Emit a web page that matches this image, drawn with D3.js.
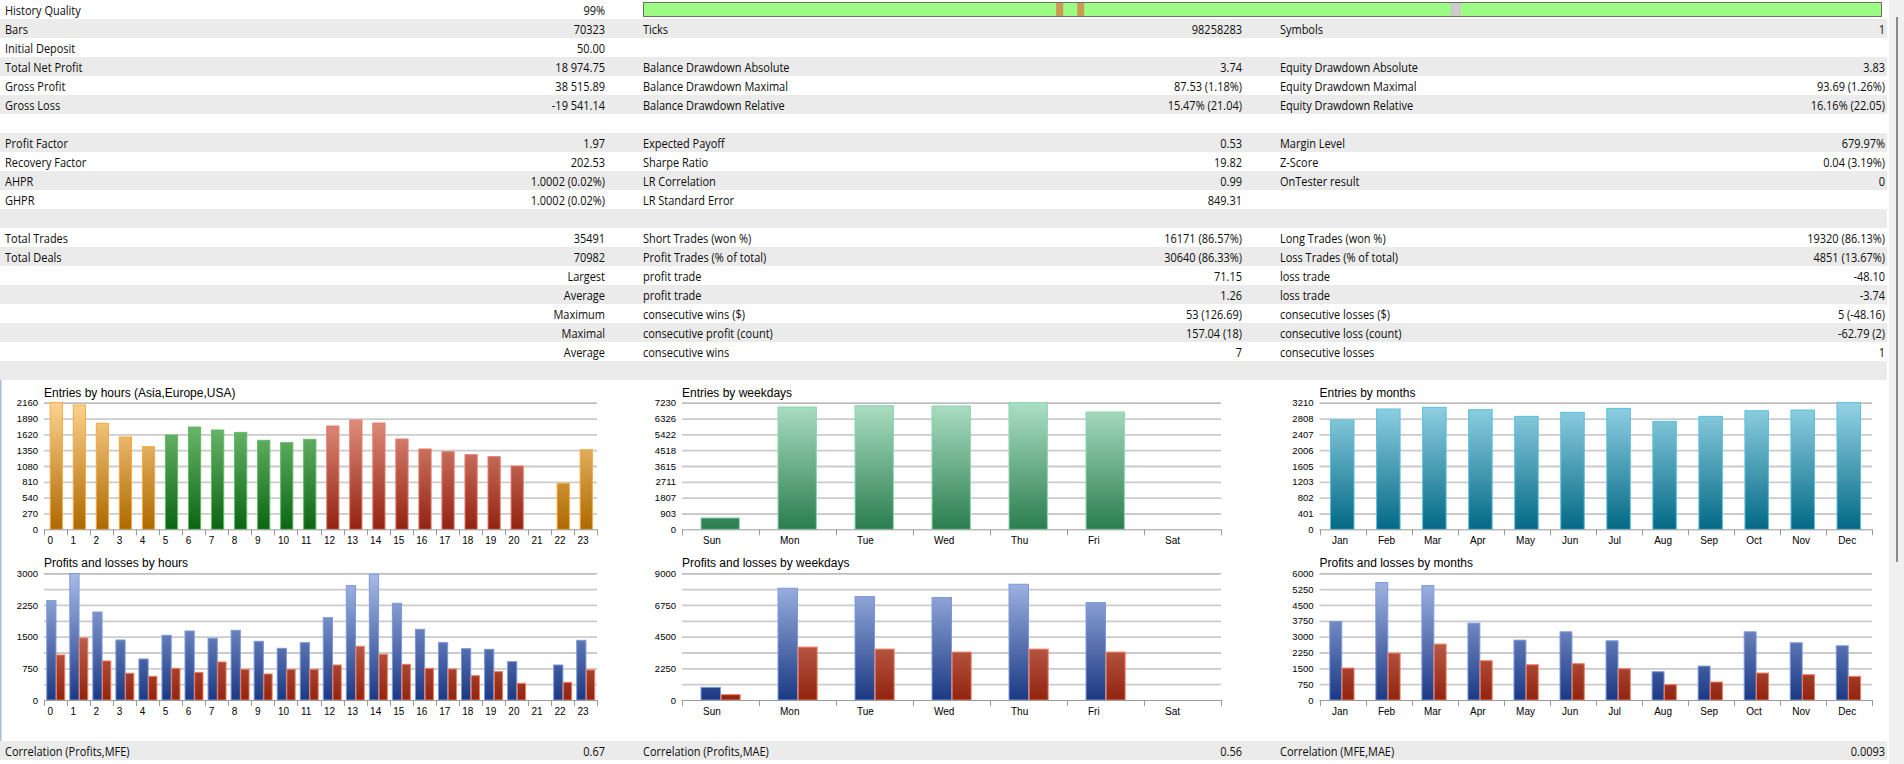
<!DOCTYPE html>
<html>
<head>
<meta charset="utf-8">
<script src="https://cdn.jsdelivr.net/npm/d3@7"></script>
<style>
body { margin: 0; background: #fff; overflow: hidden; }
</style>
</head>
<body>
<script>
// ---- report table ----
const col1Labels = ['History Quality', 'Bars', 'Initial Deposit', 'Total Net Profit', 'Gross Profit', 'Gross Loss', '', 'Profit Factor', 'Recovery Factor', 'AHPR', 'GHPR', '', 'Total Trades', 'Total Deals', '', '', '', '', '', '']
const col1Values = ['99%', '70323', '50.00', '18 974.75', '38 515.89', '-19 541.14', '', '1.97', '202.53', '1.0002 (0.02%)', '1.0002 (0.02%)', '', '35491', '70982', 'Largest', 'Average', 'Maximum', 'Maximal', 'Average', '']
const col2Labels = ['', 'Ticks', '', 'Balance Drawdown Absolute', 'Balance Drawdown Maximal', 'Balance Drawdown Relative', '', 'Expected Payoff', 'Sharpe Ratio', 'LR Correlation', 'LR Standard Error', '', 'Short Trades (won %)', 'Profit Trades (% of total)', 'profit trade', 'profit trade', 'consecutive wins ($)', 'consecutive profit (count)', 'consecutive wins', '']
const col2Values = ['', '98258283', '', '3.74', '87.53 (1.18%)', '15.47% (21.04)', '', '0.53', '19.82', '0.99', '849.31', '', '16171 (86.57%)', '30640 (86.33%)', '71.15', '1.26', '53 (126.69)', '157.04 (18)', '7', '']
const col3Labels = ['', 'Symbols', '', 'Equity Drawdown Absolute', 'Equity Drawdown Maximal', 'Equity Drawdown Relative', '', 'Margin Level', 'Z-Score', 'OnTester result', '', '', 'Long Trades (won %)', 'Loss Trades (% of total)', 'loss trade', 'loss trade', 'consecutive losses ($)', 'consecutive loss (count)', 'consecutive losses', '']
const col3Values = ['', '1', '', '3.83', '93.69 (1.26%)', '16.16% (22.05)', '', '679.97%', '0.04 (3.19%)', '0', '', '', '19320 (86.13%)', '4851 (13.67%)', '-48.10', '-3.74', '5 (-48.16)', '-62.79 (2)', '1', '']
const correlationLabels = ['Correlation (Profits,MFE)', 'Correlation (Profits,MAE)', 'Correlation (MFE,MAE)']
const correlationValues = ['0.67', '0.56', '0.0093']

// history quality strip (fraction of the tested period)
const qualityFrom = [0.3333, 0.3503, 0.6521]
const qualityTo = [0.3390, 0.3559, 0.6602]
const qualityKind = ['partial', 'partial', 'missing']

// ---- chart data ----
const hourLabels = ['0', '1', '2', '3', '4', '5', '6', '7', '8', '9', '10', '11', '12', '13', '14', '15', '16', '17', '18', '19', '20', '21', '22', '23']
const hourSessions = ['asia', 'asia', 'asia', 'asia', 'asia', 'europe', 'europe', 'europe', 'europe', 'europe', 'europe', 'europe', 'usa', 'usa', 'usa', 'usa', 'usa', 'usa', 'usa', 'usa', 'usa', 'asia', 'asia', 'asia']
const hourEntries = [2160, 2120, 1808, 1575, 1410, 1609, 1745, 1694, 1654, 1518, 1478, 1535, 1762, 1864, 1813, 1540, 1370, 1324, 1273, 1239, 1080, 0, 784, 1358]
const hourProfits = [2353, 2995, 2084, 1421, 971, 1532, 1634, 1461, 1650, 1389, 1224, 1358, 1950, 2708, 2976, 2289, 1674, 1358, 1216, 1200, 908, 0, 829, 1413]
const hourLosses = [1066, 1468, 924, 632, 561, 750, 655, 900, 726, 616, 726, 726, 829, 1271, 1082, 845, 750, 734, 576, 671, 395, 0, 418, 711]
const hourEntryTicks = [0, 270, 540, 810, 1080, 1350, 1620, 1890, 2160]
const hourPLTicks = [0, 750, 1500, 2250, 3000]
const hourPLGrid = [0, 375, 750, 1125, 1500, 1875, 2250, 2625, 3000]

const dayLabels = ['Sun', 'Mon', 'Tue', 'Wed', 'Thu', 'Fri', 'Sat']
const dayEntries = [647, 6983, 7059, 7040, 7230, 6697, 0]
const dayProfits = [898, 7937, 7346, 7276, 8220, 6921, 0]
const dayLosses = [378, 3756, 3614, 3402, 3614, 3402, 0]
const dayEntryTicks = [0, 903, 1807, 2711, 3615, 4518, 5422, 6326, 7230]
const dayPLTicks = [0, 2250, 4500, 6750, 9000]
const dayPLGrid = [0, 1125, 2250, 3375, 4500, 5625, 6750, 7875, 9000]

const monthLabels = ['Jan', 'Feb', 'Mar', 'Apr', 'May', 'Jun', 'Jul', 'Aug', 'Sep', 'Oct', 'Nov', 'Dec']
const monthEntries = [2771, 3050, 3092, 3033, 2864, 2965, 3066, 2737, 2864, 3007, 3024, 3210]
const monthProfits = [3717, 5559, 5417, 3638, 2835, 3228, 2803, 1339, 1606, 3228, 2709, 2567]
const monthLosses = [1512, 2220, 2646, 1858, 1669, 1717, 1480, 724, 850, 1276, 1197, 1118]
const monthEntryTicks = [0, 401, 802, 1203, 1605, 2006, 2407, 2808, 3210]
const monthPLTicks = [0, 750, 1500, 2250, 3000, 3750, 4500, 5250, 6000]

const palette = {
    asia: { top: '#fdd390', bottom: '#ae6800', edge: '#f6aa3c' },
    europe: { top: '#80c880', bottom: '#0a6512', edge: '#62bc62' },
    usa: { top: '#ea9c8c', bottom: '#922210', edge: '#e57c6a' },
    weekday: { top: '#acdfc5', bottom: '#2b7d4f', edge: '#88d7aa' },
    month: { top: '#94d3e5', bottom: '#036985', edge: '#58c0dc' },
    profit: { top: '#a8bce8', bottom: '#1b3984', edge: '#7c98de' },
    loss: { top: '#e89c88', bottom: '#912410', edge: '#f27a5c' }
}

const W = 1904, H = 764, rowH = 19
const svg = d3.select('body').append('svg').attr('width', W).attr('height', H)
const defs = svg.append('defs')

const tableFont = '"Open Sans", "Noto Sans", sans-serif'
const chartFont = '"Liberation Sans", Arial, sans-serif'

function cell(x, y, str, anchor) {
    if (!str) return
    svg.append('text')
        .attr('transform', `translate(${x},${y}) scale(0.845,1)`)
        .attr('text-anchor', anchor)
        .attr('font-family', tableFont)
        .attr('font-size', 13)
        .attr('fill', '#0c0c0c')
        .text(str)
}

// grey stripes
d3.range(col1Labels.length).forEach(i => {
    if (i % 2 == 1) {
        svg.append('rect').attr('x', 0).attr('y', i * rowH).attr('width', 1887).attr('height', rowH).attr('fill', '#ebebeb')
    }
})
svg.append('rect').attr('x', 0).attr('y', 741).attr('width', 1887).attr('height', rowH).attr('fill', '#ebebeb')

col1Labels.forEach((d, i) => {
    const by = i * rowH + 14.5
    cell(5, by, d, 'start')
    cell(605, by, col1Values[i], 'end')
    cell(643, by, col2Labels[i], 'start')
    cell(1242, by, col2Values[i], 'end')
    cell(1280, by, col3Labels[i], 'start')
    cell(1885, by, col3Values[i], 'end')
})

// quality strip
const q = d3.scaleLinear().domain([0, 1]).range([643.5, 1881.5])
svg.append('rect').attr('x', q(0)).attr('y', 2.5).attr('width', q(1) - q(0)).attr('height', 14)
    .attr('fill', '#9cfc84').attr('stroke', '#6e6e6e').attr('stroke-width', 1)
qualityFrom.forEach((f, i) => {
    svg.append('rect').attr('x', q(f)).attr('y', 3).attr('width', q(qualityTo[i]) - q(f)).attr('height', 13)
        .attr('fill', qualityKind[i] == 'partial' ? '#cc9955' : '#cbcbcb')
})

// correlation row
const corrX = [[5, 605], [643, 1242], [1280, 1885]]
correlationLabels.forEach((d, i) => {
    cell(corrX[i][0], 755.5, d, 'start')
    cell(corrX[i][1], 755.5, correlationValues[i], 'end')
})

// window edges
svg.append('line').attr('x1', 0.75).attr('x2', 0.75).attr('y1', 380).attr('y2', 741).attr('stroke', '#aabed8').attr('stroke-width', 1.5)
svg.append('rect').attr('x', 1889).attr('y', 0).attr('width', 15).attr('height', H).attr('fill', '#f0f0f0')
svg.append('rect').attr('x', 1896).attr('y', 17).attr('width', 2).attr('height', 545).attr('fill', '#8a8a8a')

function gradient(id, scheme, top, bottom) {
    const c = palette[scheme]
    const lg = defs.append('linearGradient').attr('id', id)
        .attr('gradientUnits', 'userSpaceOnUse').attr('x1', 0).attr('x2', 0).attr('y1', top).attr('y2', bottom)
    lg.append('stop').attr('offset', 0).attr('stop-color', c.top)
    lg.append('stop').attr('offset', 1).attr('stop-color', c.bottom)
    return `url(#${id})`
}

function barChart(cfg) {
    const g = svg.append('g')
    const x = d3.scaleBand().domain(cfg.categories).range([cfg.left, cfg.right])
    const y = d3.scaleLinear().domain([0, cfg.max]).range([cfg.bottom, cfg.top])
    const bw = x.bandwidth()

    // gridlines
    g.append('g').attr('transform', `translate(${cfg.left},0)`)
        .call(d3.axisLeft(y).tickValues(cfg.grid.slice(1)).tickSize(-(cfg.right - cfg.left)).tickFormat(''))
        .call(a => a.select('.domain').remove())
        .selectAll('line')
        .attr('stroke', d => d == cfg.max ? '#a4a4a4' : '#cbcbcb')
        .attr('stroke-width', d => d == cfg.max ? 1.2 : 1.8)

    // y labels
    g.append('g').attr('transform', `translate(${cfg.left},0)`)
        .call(d3.axisLeft(y).tickValues(cfg.ticks).tickSize(0).tickPadding(6).tickFormat(d3.format('d')))
        .call(a => a.select('.domain').remove())
        .selectAll('text')
        .attr('font-family', chartFont).attr('font-size', 9.5).attr('fill', '#000')

    // bars
    cfg.series.forEach(s => {
        const fills = {}
        g.selectAll(null).data(s.values).enter().append('rect')
            .attr('x', (d, i) => x(cfg.categories[i]) + s.from * bw)
            .attr('width', (s.to - s.from) * bw)
            .attr('y', d => y(d))
            .attr('height', d => y(0) - y(d))
            .attr('fill', (d, i) => {
                const sc = s.scheme(i)
                if (!fills[sc]) fills[sc] = gradient(cfg.id + '-' + s.name + '-' + sc, sc, cfg.top, cfg.bottom)
                return fills[sc]
            })
            .attr('stroke', (d, i) => palette[s.scheme(i)].edge)
            .attr('stroke-width', 1)
            .style('display', d => d > 0 ? null : 'none')
    })

    // baseline and category ticks
    g.append('line').attr('x1', cfg.left).attr('x2', cfg.right).attr('y1', y(0) + 0.5).attr('y2', y(0) + 0.5)
        .attr('stroke', '#9a9a9a').attr('stroke-width', 1)
    const bounds = cfg.categories.map(c => x(c)).concat([cfg.right])
    g.selectAll(null).data(bounds).enter().append('line')
        .attr('x1', d => Math.round(d) + 0.5).attr('x2', d => Math.round(d) + 0.5)
        .attr('y1', y(0)).attr('y2', y(0) + 6)
        .attr('stroke', '#9a9a9a')

    g.selectAll(null).data(cfg.categories).enter().append('text')
        .attr('x', d => x(d) + cfg.labelDx)
        .attr('y', cfg.bottom + 14.5)
        .attr('font-family', chartFont).attr('font-size', 10).attr('fill', '#000')
        .text(d => d)

    g.append('text').attr('x', cfg.left).attr('y', cfg.top - 6)
        .attr('font-family', chartFont).attr('font-size', 12).attr('fill', '#000')
        .text(cfg.title)
}

const entriesBox = { top: 402.7, bottom: 529.3 }
const plBox = { top: 573.3, bottom: 700 }

barChart({
    id: 'he', title: 'Entries by hours (Asia,Europe,USA)', left: 44, right: 597, ...entriesBox,
    categories: hourLabels, max: 2160, ticks: hourEntryTicks, grid: hourEntryTicks, labelDx: 3.5,
    series: [{ name: 'e', values: hourEntries, from: 0.27, to: 0.80, scheme: i => hourSessions[i] }]
})
barChart({
    id: 'hp', title: 'Profits and losses by hours', left: 44, right: 597, ...plBox,
    categories: hourLabels, max: 3000, ticks: hourPLTicks, grid: hourPLGrid, labelDx: 3.5,
    series: [
        { name: 'p', values: hourProfits, from: 0.12, to: 0.52, scheme: () => 'profit' },
        { name: 'l', values: hourLosses, from: 0.54, to: 0.90, scheme: () => 'loss' }
    ]
})
barChart({
    id: 'de', title: 'Entries by weekdays', left: 682, right: 1221, ...entriesBox,
    categories: dayLabels, max: 7230, ticks: dayEntryTicks, grid: dayEntryTicks, labelDx: 21,
    series: [{ name: 'e', values: dayEntries, from: 0.247, to: 0.745, scheme: () => 'weekday' }]
})
barChart({
    id: 'dp', title: 'Profits and losses by weekdays', left: 682, right: 1221, ...plBox,
    categories: dayLabels, max: 9000, ticks: dayPLTicks, grid: dayPLGrid, labelDx: 21,
    series: [
        { name: 'p', values: dayProfits, from: 0.247, to: 0.500, scheme: () => 'profit' },
        { name: 'l', values: dayLosses, from: 0.508, to: 0.755, scheme: () => 'loss' }
    ]
})
barChart({
    id: 'me', title: 'Entries by months', left: 1319.5, right: 1872, ...entriesBox,
    categories: monthLabels, max: 3210, ticks: monthEntryTicks, grid: monthEntryTicks, labelDx: 12.4,
    series: [{ name: 'e', values: monthEntries, from: 0.24, to: 0.75, scheme: () => 'month' }]
})
barChart({
    id: 'mp', title: 'Profits and losses by months', left: 1319.5, right: 1872, ...plBox,
    categories: monthLabels, max: 6000, ticks: monthPLTicks, grid: monthPLTicks, labelDx: 12.4,
    series: [
        { name: 'p', values: monthProfits, from: 0.224, to: 0.483, scheme: () => 'profit' },
        { name: 'l', values: monthLosses, from: 0.490, to: 0.750, scheme: () => 'loss' }
    ]
})
</script>
</body>
</html>
